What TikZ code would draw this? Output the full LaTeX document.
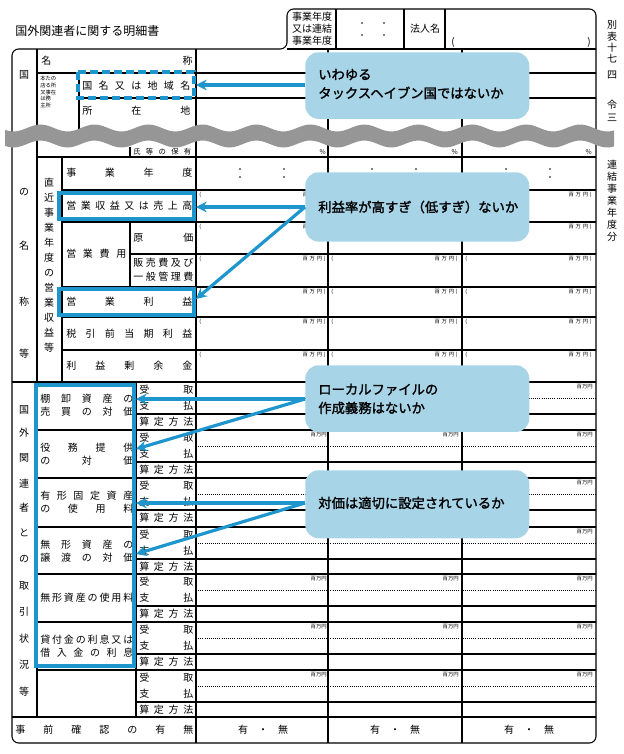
\documentclass[tikz,border=0pt]{standalone}
\usepackage{fontspec}
\setmainfont{Noto Sans CJK JP}
\newfontfamily\cbold[FakeBold=1.5]{Noto Sans CJK JP}
\usetikzlibrary{arrows.meta}
\definecolor{hlblue}{RGB}{30,150,205}
\definecolor{callfill}{RGB}{168,212,232}
\definecolor{wavegray}{RGB}{150,150,150}
\def\sprA#1{\ifx#1\relax\else#1\hfill\expandafter\sprA\fi}
\newcommand\spr[2]{\makebox[\dimexpr0.75pt*#1\relax]{\sprA#2\relax\unskip}}
\begin{document}
\begin{tikzpicture}[x=0.75pt,y=-0.75pt,
  tl/.style={line width=0.8pt},
  bl/.style={line width=1.4pt},
  lbl/.style={inner sep=0,anchor=west,font=\fontsize{7.5}{8}\selectfont},
  clbl/.style={inner sep=0,font=\fontsize{7.5}{8}\selectfont},
  sm/.style={inner sep=0,font=\fontsize{4}{4}\selectfont},
  hl/.style={draw=hlblue,line width=2.4pt},
  callout/.style={fill=callfill,rounded corners=10pt},
  ctext/.style={inner sep=0,anchor=west,align=left,font=\fontsize{10}{14}\cbold},
  arr/.style={hlblue,line width=2.4pt,-{Stealth[length=8pt,width=8pt]}}]
\useasboundingbox (0,0) rectangle (624,754);
% title
\node[lbl,font=\fontsize{9}{10}\selectfont] (title) at (15,31) {国外関連者に関する明細書};
% header
\draw[tl,rounded corners=5] (12,743) -- (12,49) -- (287,49) -- (287,9) -- (596,9) -- (596,743) -- cycle;
\draw[tl] (287,49) -- (596,49);
\foreach \x in {336,404,445} \draw[tl] (\x,9) -- (\x,49);
\node[clbl] (h1) at (312,17) {事業年度};
\node[clbl] (h2) at (312,29) {又は連結};
\node[clbl] (h3) at (312,41) {事業年度};
\foreach \x in {362,384} \foreach \y in {23,35} \fill (\x,\y) circle (0.8);
\node[clbl] (hojin) at (425,29) {法人名};
\node[clbl] (lp) at (453,42) {(};
\node[clbl] (rp) at (589,42) {)};
% right side text
\foreach \c/\y in {別/25,表/37,十/48,七/59,四/75,令/105,三/118,連/165,結/177,事/189,業/201,年/213,度/225,分/237}
  \node[clbl] at (612,\y) {\c};
% top part lines
\draw[tl] (37,49) -- (37,717);
\draw[bl] (196,49) -- (196,743);
\foreach \x in {328,462} \draw[tl] (\x,49) -- (\x,743);
\draw[tl] (37,73) -- (596,73);
\draw[tl] (79,98) -- (596,98);
\draw[tl] (79,73) -- (79,135);
\node[lbl] (mei) at (41,61) {名};
\node[clbl,anchor=east] (sho) at (193,61) {称};
\node[inner sep=0,font=\fontsize{4}{5}\selectfont,align=left,anchor=north west] (honten) at (40,76) {本たの\\店る所\\又事在\\は務\\主所};
\node[lbl] (kokumei) at (82,86) {\spr{108}{国名又は地域名}};
\node[lbl] (shozai) at (82,111) {\spr{108}{所在地}};
% below wave
\draw[tl] (130,147) -- (130,157);
\node[lbl,font=\fontsize{5.5}{6}\selectfont] (shimei) at (133,152) {\spr{58}{氏等の保有}};
\foreach \c in {196,328,462} \node[sm,anchor=east,font=\fontsize{5}{5}\selectfont] at (\c+130,152) {\%};
\draw[tl] (37,157) -- (596,157);
\draw[tl] (62,157) -- (62,382);
\foreach \y in {190,222,287,317,350} \draw[tl] (62,\y) -- (596,\y);
\draw[tl] (130,254) -- (596,254);
\draw[tl] (130,222) -- (130,287);
\draw[tl] (12,382) -- (596,382);
\node[lbl] (jigyo) at (66,173) {\spr{126}{事業年度}};
\foreach \c in {196,328,462} \foreach \dx in {44,88} {\fill (\c+\dx,169) circle (0.8); \fill (\c+\dx,177) circle (0.8);}
\node[lbl] (uriage) at (66,206) {\spr{126}{営業収益又は売上高}};
\node[lbl] (hiyo) at (66,254) {\spr{60}{営業費用}};
\node[lbl] (genka) at (133,238) {\spr{60}{原価}};
\node[lbl] (hanbai) at (133,263) {\spr{60}{販売費及び}};
\node[lbl] (ippan) at (133,277) {\spr{60}{一般管理費}};
\node[lbl] (eirieki) at (66,302) {\spr{126}{営業利益}};
\node[lbl] (zeibiki) at (66,334) {\spr{126}{税引前当期利益}};
\node[lbl] (joyo) at (66,366) {\spr{126}{利益剰余金}};
\foreach \r in {190,222,254,287,317,350} \foreach \c in {196,328,462} {
  \node[sm,anchor=west] at (\c+3,\r+5) {(};
  \node[sm,anchor=east] at (\c+130,\r+5) {百\,\,万\,\,円\,\,)};}
% left vertical labels
\foreach \c/\y in {国/75,の/192,名/246,称/302,等/354} \node[clbl] at (24,\y) {\c};
\foreach \c [count=\i] in {直,近,事,業,年,度,の,営,業,収,益,等} \node[clbl] at (49,168+\i*15) {\c};
\foreach \c/\y in {国/410,外/433,関/458,連/484,者/508,と/533,の/559,取/586,引/612,状/639,況/665,等/692} \node[clbl] at (24,\y) {\c};
% bottom groups
\draw[tl] (136,382) -- (136,717);
\foreach \t in {382,430,478,527,574,622,670} {
  \draw[tl] (37,\t) -- (596,\t);
  \draw[tl] (136,\t+32) -- (596,\t+32);
  \draw[densely dotted,line width=0.6pt] (196,\t+16) -- (596,\t+16);
  \node[lbl] at (139,\t+8) {\spr{54}{受取}};
  \node[lbl] at (139,\t+24) {\spr{54}{支払}};
  \node[lbl] at (139,\t+40) {\spr{54}{算定方法}};
  \foreach \c in {196,328,462} \node[sm,anchor=north east] at (\c+131,\t+2) {百万円};
}
\draw[tl] (12,717) -- (596,717);
\node[lbl] (g1a) at (40,399) {\spr{93}{棚卸資産の}};
\node[lbl] (g1b) at (40,412) {\spr{93}{売買の対価}};
\node[lbl] (g2a) at (40,448) {\spr{93}{役務提供}};
\node[lbl] (g2b) at (40,461) {\spr{93}{の対価}};
\node[lbl] (g3a) at (40,496) {\spr{93}{有形固定資産}};
\node[lbl] (g3b) at (40,509) {\spr{93}{の使用料}};
\node[lbl] (g4a) at (40,545) {\spr{93}{無形資産の}};
\node[lbl] (g4b) at (40,558) {\spr{93}{譲渡の対価}};
\node[lbl] (g5) at (40,598) {\spr{93}{無形資産の使用料}};
\node[lbl] (g6a) at (40,640) {\spr{93}{貸付金の利息又は}};
\node[lbl] (g6b) at (40,653) {\spr{93}{借入金の利息}};
\node[lbl] (jizen) at (15,730) {\spr{178}{事前確認の有無}};
\foreach \c in {196,328,462} \node[clbl] at (\c+67,730) {有\quad{}・\quad{}無};
% wave
\fill[wavegray] plot[domain=5:614,samples=150] (\x,{128+3.5*sin(\x*6.67)}) -- plot[domain=614:5,samples=150] (\x,{144+3.5*sin(\x*6.67)}) -- cycle;
% highlight boxes
\draw[hl,dash pattern=on 6pt off 3pt] (78,72) rectangle (194,98);
\draw[hl] (59,193) rectangle (194,219);
\draw[hl] (59,289) rectangle (194,315);
\draw[hl] (36,385) rectangle (134,666);
% callouts
\node[callout,minimum width=168pt,minimum height=50pt,anchor=north west] (c1) at (305,52) {};
\node[ctext] (c1t) at (318,84) {いわゆる\\タックスヘイブン国ではないか};
\node[callout,minimum width=168pt,minimum height=52pt,anchor=north west] (c2) at (305,172) {};
\node[ctext] (c2t) at (318,207) {利益率が高すぎ（低すぎ）ないか};
\node[callout,minimum width=168pt,minimum height=50pt,anchor=north west] (c3) at (305,365) {};
\node[ctext] (c3t) at (318,399) {ローカルファイルの\\作成義務はないか};
\node[callout,minimum width=168pt,minimum height=51pt,anchor=north west] (c4) at (305,470) {};
\node[ctext] (c4t) at (318,503) {対価は適切に設定されているか};
\coordinate (a1) at (c1.west |- 0,85);
\coordinate (a2) at (c2.west |- 0,207);
\coordinate (a3) at (c3.west |- 0,399);
\coordinate (a4) at (c4.west |- 0,503);
\coordinate (t1) at (196,85);
\coordinate (t2) at (196,207);
\coordinate (t2b) at (196,299);
\coordinate (t3) at (136,399);
\coordinate (t3b) at (136,449);
\coordinate (t4) at (136,503);
\coordinate (t4b) at (136,554);
\draw[arr] (a1) -- (t1);
\draw[arr] (a2) -- (t2);
\draw[arr] (a2) -- (t2b);
\draw[arr] (a3) -- (t3);
\draw[arr] (a3) -- (t3b);
\draw[arr] (a4) -- (t4);
\draw[arr] (a4) -- (t4b);
\end{tikzpicture}
\end{document}
